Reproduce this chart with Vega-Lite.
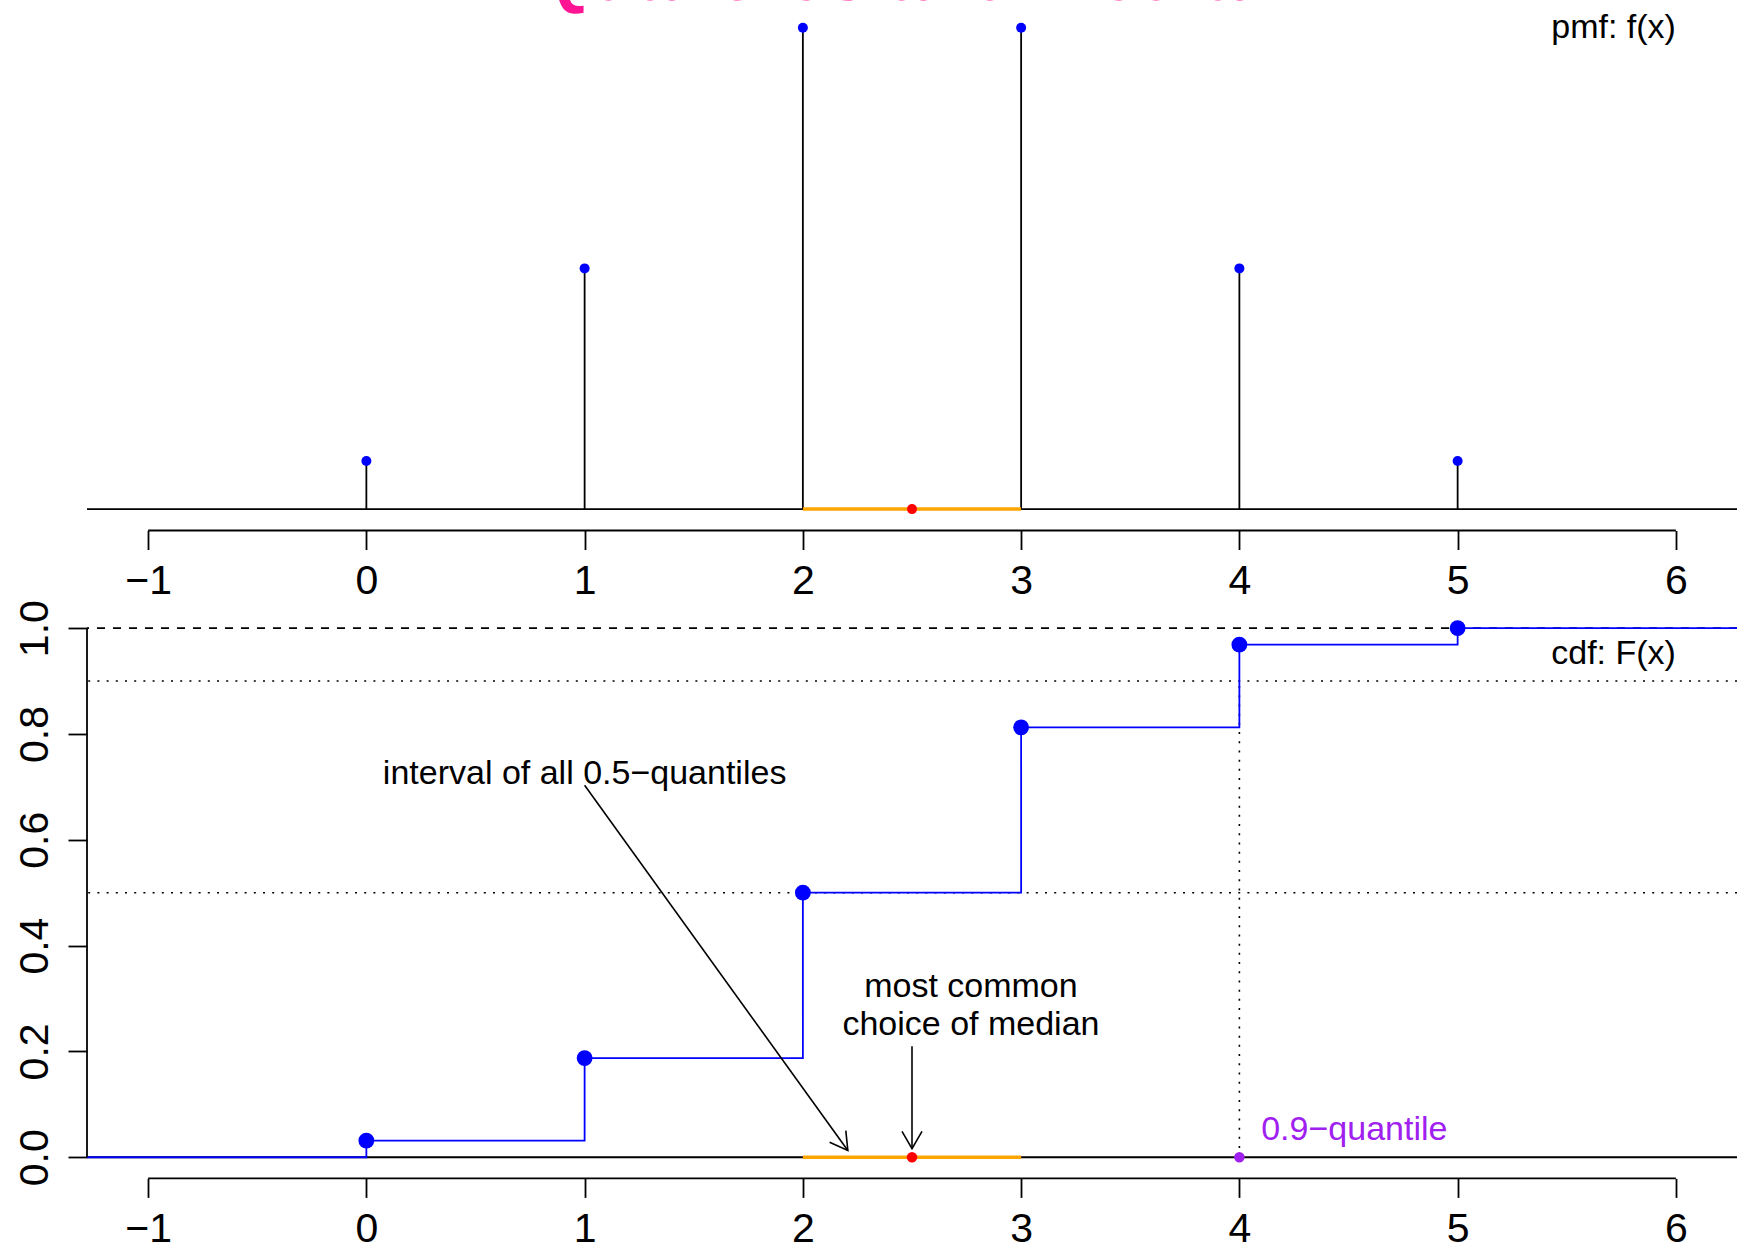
{
  "$schema": "https://vega.github.io/schema/vega-lite/v6.json",
  "background": "white",
  "padding": {"left": 14, "top": 0, "right": 0, "bottom": 0},
  "spacing": 76,
  "bounds": "flush",
  "datasets": {
    "pmf": [
      {"x": 0, "y": 0.03125, "y0": 0}, {"x": 1, "y": 0.15625, "y0": 0}, {"x": 2, "y": 0.3125, "y0": 0},
      {"x": 3, "y": 0.3125, "y0": 0}, {"x": 4, "y": 0.15625, "y0": 0}, {"x": 5, "y": 0.03125, "y0": 0}
    ],
    "cdf": [
      {"x": 0, "y": 0.03125}, {"x": 1, "y": 0.1875}, {"x": 2, "y": 0.5},
      {"x": 3, "y": 0.8125}, {"x": 4, "y": 0.96875}, {"x": 5, "y": 1}
    ],
    "step": [
      {"x": -2, "y": 0}, {"x": 0, "y": 0.03125}, {"x": 1, "y": 0.1875}, {"x": 2, "y": 0.5},
      {"x": 3, "y": 0.8125}, {"x": 4, "y": 0.96875}, {"x": 5, "y": 1}, {"x": 7, "y": 1}
    ]
  },
  "vconcat": [
    {
      "width": 1650,
      "height": 530.5,
      "layer": [
        {
          "data": {"values": [{"x": 2.5, "y": 0.3307, "label": "Quantiles and Median"}]},
          "mark": {"type": "text", "clip": true, "font": "Liberation Sans", "fontWeight": "bold", "fontSize": 73, "color": "#FF1493", "baseline": "alphabetic", "align": "center"},
          "encoding": {
            "x": {"field": "x", "type": "quantitative", "scale": {"domain": [-1.28, 6.28], "nice": false, "zero": false},
                  "axis": {"values": [-1, 0, 1, 2, 3, 4, 5, 6], "format": "d"}, "title": null},
            "y": {"field": "y", "type": "quantitative", "scale": {"domain": [-0.01389, 0.33048], "nice": false, "zero": false}, "axis": null},
            "text": {"field": "label", "type": "nominal"}
          }
        },
        {
          "data": {"values": [{"y": 0}]},
          "mark": {"type": "rule", "color": "black", "strokeWidth": 1.8},
          "encoding": {
            "y": {"field": "y", "type": "quantitative", "axis": null}
          }
        },
        {
          "data": {"values": [{"x": -1, "x2": 6, "y": -0.01389}]},
          "mark": {"type": "rule", "color": "black", "strokeWidth": 1.8},
          "encoding": {
            "x": {"field": "x", "type": "quantitative", "title": null},
            "x2": {"field": "x2"},
            "y": {"field": "y", "type": "quantitative", "axis": null}
          }
        },
        {
          "data": {"name": "pmf"},
          "mark": {"type": "rule", "color": "black", "strokeWidth": 1.8},
          "encoding": {
            "x": {"field": "x", "type": "quantitative", "title": null},
            "y": {"field": "y", "type": "quantitative", "axis": null},
            "y2": {"field": "y0"}
          }
        },
        {
          "data": {"values": [{"x": 2, "x2": 3, "y": 0}]},
          "mark": {"type": "rule", "color": "#FFA500", "strokeWidth": 3.5},
          "encoding": {
            "x": {"field": "x", "type": "quantitative", "title": null},
            "x2": {"field": "x2"},
            "y": {"field": "y", "type": "quantitative", "axis": null}
          }
        },
        {
          "data": {"name": "pmf"},
          "mark": {"type": "point", "filled": true, "color": "#0000FF", "size": 100, "opacity": 1},
          "encoding": {
            "x": {"field": "x", "type": "quantitative", "title": null},
            "y": {"field": "y", "type": "quantitative", "axis": null}
          }
        },
        {
          "data": {"values": [{"x": 2.5, "y": 0}]},
          "mark": {"type": "point", "filled": true, "color": "#FF0000", "size": 100, "opacity": 1},
          "encoding": {
            "x": {"field": "x", "type": "quantitative", "title": null},
            "y": {"field": "y", "type": "quantitative", "axis": null}
          }
        },
        {
          "data": {"values": [{"x": 6, "y": 0.3125, "label": "pmf: f(x)"}]},
          "mark": {"type": "text", "align": "right", "baseline": "middle"},
          "encoding": {
            "x": {"field": "x", "type": "quantitative", "title": null},
            "y": {"field": "y", "type": "quantitative", "axis": null},
            "text": {"field": "label", "type": "nominal"}
          }
        }
      ]
    },
    {
      "width": 1650,
      "height": 571.4,
      "layer": [
        {
          "data": {"values": [{"y": 0.5}, {"y": 0.9}]},
          "mark": {"type": "rule", "color": "black", "strokeWidth": 1.6, "strokeDash": [2, 7.2]},
          "encoding": {
            "y": {"field": "y", "type": "quantitative", "scale": {"domain": [-0.04, 1.04], "nice": false, "zero": false},
                  "axis": {"values": [0, 0.2, 0.4, 0.6, 0.8, 1], "format": ".1f", "labelAngle": 270, "labelAlign": "center", "labelBaseline": "bottom"}, "title": null}
          }
        },
        {
          "data": {"values": [{"y": 1}]},
          "mark": {"type": "rule", "color": "black", "strokeWidth": 1.6, "strokeDash": [8, 8]},
          "encoding": {
            "y": {"field": "y", "type": "quantitative", "title": null}
          }
        },
        {
          "data": {"values": [{"y": 0}]},
          "mark": {"type": "rule", "color": "black", "strokeWidth": 1.8},
          "encoding": {
            "y": {"field": "y", "type": "quantitative", "title": null}
          }
        },
        {
          "data": {"values": [{"x": 4, "y": 0, "y2": 0.9}]},
          "mark": {"type": "rule", "color": "black", "strokeWidth": 1.6, "strokeDash": [2, 7.2]},
          "encoding": {
            "x": {"field": "x", "type": "quantitative", "scale": {"domain": [-1.28, 6.28], "nice": false, "zero": false},
                  "axis": {"values": [-1, 0, 1, 2, 3, 4, 5, 6], "format": "d"}, "title": null},
            "y": {"field": "y", "type": "quantitative", "title": null},
            "y2": {"field": "y2"}
          }
        },
        {
          "data": {"values": [{"x": 2, "x2": 3, "y": 0}]},
          "mark": {"type": "rule", "color": "#FFA500", "strokeWidth": 3.5},
          "encoding": {
            "x": {"field": "x", "type": "quantitative", "title": null},
            "x2": {"field": "x2"},
            "y": {"field": "y", "type": "quantitative", "title": null}
          }
        },
        {
          "data": {"name": "step"},
          "mark": {"type": "line", "interpolate": "step-after", "color": "#0000FF", "strokeWidth": 1.8, "clip": true},
          "encoding": {
            "x": {"field": "x", "type": "quantitative", "title": null},
            "y": {"field": "y", "type": "quantitative", "title": null}
          }
        },
        {
          "data": {"name": "cdf"},
          "mark": {"type": "point", "filled": true, "color": "#0000FF", "size": 250, "opacity": 1},
          "encoding": {
            "x": {"field": "x", "type": "quantitative", "title": null},
            "y": {"field": "y", "type": "quantitative", "title": null}
          }
        },
        {
          "data": {"values": [{"x": 2.5, "y": 0}]},
          "mark": {"type": "point", "filled": true, "color": "#FF0000", "size": 110, "opacity": 1},
          "encoding": {
            "x": {"field": "x", "type": "quantitative", "title": null},
            "y": {"field": "y", "type": "quantitative", "title": null}
          }
        },
        {
          "data": {"values": [{"x": 4, "y": 0}]},
          "mark": {"type": "point", "filled": true, "color": "#A020F0", "size": 110, "opacity": 1},
          "encoding": {
            "x": {"field": "x", "type": "quantitative", "title": null},
            "y": {"field": "y", "type": "quantitative", "title": null}
          }
        },
        {
          "data": {"values": [{"x": -1, "x2": 6, "y": -0.04}]},
          "mark": {"type": "rule", "color": "black", "strokeWidth": 1.8},
          "encoding": {
            "x": {"field": "x", "type": "quantitative", "title": null},
            "x2": {"field": "x2"},
            "y": {"field": "y", "type": "quantitative", "title": null}
          }
        },
        {
          "data": {"values": [{"x": -1.28, "y": 0, "y2": 1}]},
          "mark": {"type": "rule", "color": "black", "strokeWidth": 1.8},
          "encoding": {
            "x": {"field": "x", "type": "quantitative", "title": null},
            "y": {"field": "y", "type": "quantitative", "title": null},
            "y2": {"field": "y2"}
          }
        },
        {
          "data": {"values": [{"x": 1.0, "y": 0.703, "x2": 2.206, "y2": 0.0127}, {"x": 2.5, "y": 0.21, "x2": 2.5, "y2": 0.016}]},
          "mark": {"type": "rule", "color": "black", "strokeWidth": 1.6},
          "encoding": {
            "x": {"field": "x", "type": "quantitative", "title": null},
            "y": {"field": "y", "type": "quantitative", "title": null},
            "x2": {"field": "x2"},
            "y2": {"field": "y2"}
          }
        },
        {
          "data": {"values": [{"x": 2.206, "y": 0.0127}]},
          "mark": {"type": "point", "shape": "M -1 -0.577 L 0 0 L -1 0.577", "filled": false, "stroke": "black", "strokeWidth": 1.6, "size": 1200, "angle": 54.2, "opacity": 1},
          "encoding": {
            "x": {"field": "x", "type": "quantitative", "title": null},
            "y": {"field": "y", "type": "quantitative", "title": null}
          }
        },
        {
          "data": {"values": [{"x": 2.5, "y": 0.016}]},
          "mark": {"type": "point", "shape": "M -1 -0.577 L 0 0 L -1 0.577", "filled": false, "stroke": "black", "strokeWidth": 1.6, "size": 1200, "angle": 90, "opacity": 1},
          "encoding": {
            "x": {"field": "x", "type": "quantitative", "title": null},
            "y": {"field": "y", "type": "quantitative", "title": null}
          }
        },
        {
          "data": {"values": [
            {"x": 1.0, "y": 0.725, "label": "interval of all 0.5\u2212quantiles"},
            {"x": 2.77, "y": 0.321, "label": "most common"},
            {"x": 2.77, "y": 0.249, "label": "choice of median"}
          ]},
          "mark": {"type": "text", "align": "center", "baseline": "middle"},
          "encoding": {
            "x": {"field": "x", "type": "quantitative", "title": null},
            "y": {"field": "y", "type": "quantitative", "title": null},
            "text": {"field": "label", "type": "nominal"}
          }
        },
        {
          "data": {"values": [{"x": 6, "y": 0.952, "label": "cdf: F(x)"}]},
          "mark": {"type": "text", "align": "right", "baseline": "middle"},
          "encoding": {
            "x": {"field": "x", "type": "quantitative", "title": null},
            "y": {"field": "y", "type": "quantitative", "title": null},
            "text": {"field": "label", "type": "nominal"}
          }
        },
        {
          "data": {"values": [{"x": 4.1, "y": 0.052, "label": "0.9\u2212quantile"}]},
          "mark": {"type": "text", "align": "left", "baseline": "middle", "color": "#A020F0"},
          "encoding": {
            "x": {"field": "x", "type": "quantitative", "title": null},
            "y": {"field": "y", "type": "quantitative", "title": null},
            "text": {"field": "label", "type": "nominal"}
          }
        }
      ]
    }
  ],
  "config": {
    "view": {"stroke": null},
    "axis": {
      "domain": false, "grid": false, "ticks": true, "tickSize": 19, "tickWidth": 1.8, "tickColor": "black",
      "labelFontSize": 41, "labelFont": "Liberation Sans", "labelColor": "black", "labelPadding": 12,
      "labelFlush": false, "labelOverlap": false
    },
    "text": {"font": "Liberation Sans", "fontSize": 34, "color": "black"}
  }
}
